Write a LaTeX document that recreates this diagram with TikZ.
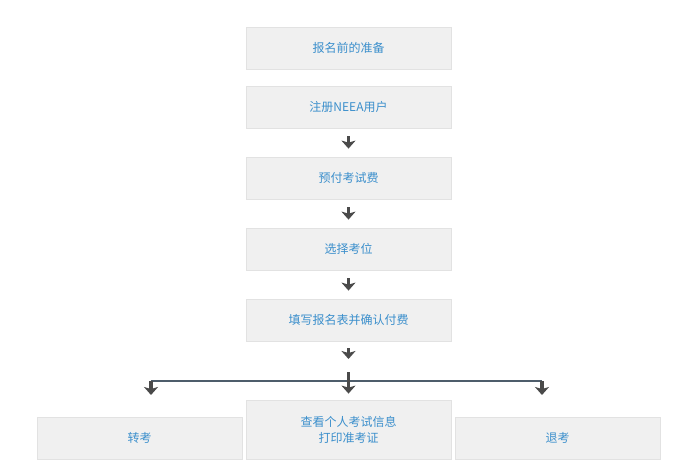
\documentclass[tikz,border=0pt]{standalone}
\usepackage{fontspec}
\newfontfamily\cjk{Noto Sans CJK SC}
\usetikzlibrary{arrows.meta}
\definecolor{boxfill}{HTML}{F0F0F0}
\definecolor{boxline}{HTML}{E2E2E2}
\definecolor{txtblue}{HTML}{3B8FCC}
\definecolor{arrgray}{HTML}{4A4A4A}
\definecolor{hgray}{HTML}{4E5D6B}
\tikzset{
  stepbox/.style={draw=boxline, fill=boxfill, line width=0.8pt, minimum width=205pt, minimum height=42pt, inner sep=0pt, font=\cjk\fontsize{12}{16}\selectfont, text=txtblue, align=center},
  arr/.style={draw=arrgray, line width=3.5pt, -{Stealth[width=14pt,length=8pt,inset=2pt]}},
  hline/.style={draw=hgray, line width=2pt},
}
\begin{document}
\begin{tikzpicture}[x=1pt,y=-1pt]
\useasboundingbox (0,0) rectangle (684,470);
\node[stepbox] (b1) at (348.5,48) {报名前的准备};
\node[stepbox] (b2) at (348.5,107) {注册NEEA用户};
\node[stepbox] (b3) at (348.5,178) {预付考试费};
\node[stepbox] (b4) at (348.5,249) {选择考位};
\node[stepbox] (b5) at (348.5,320) {填写报名表并确认付费};
\node[stepbox] (b7) at (139.5,438) {转考};
\node[stepbox, minimum height=59pt] (b6) at (348.5,429.5) {查看个人考试信息\\打印准考证};
\node[stepbox] (b8) at (557.5,438) {退考};
\coordinate (a5) at (348.5,359);
\coordinate (jt) at (348.5,372);
\coordinate (hL) at (151,381);
\coordinate (hR) at (542,381);
\draw[arr, shorten <=8pt, shorten >=8pt] (b2) -- (b3);
\draw[arr, shorten <=8pt, shorten >=8pt] (b3) -- (b4);
\draw[arr, shorten <=8pt, shorten >=8pt] (b4) -- (b5);
\draw[arr, shorten <=7pt] (b5) -- (a5);
\draw[hline] (hL) -- (hR);
\draw[arr, shorten >=6pt] (jt) -- (b6);
\draw[arr] (hL) -- ++(0,14);
\draw[arr] (hR) -- ++(0,14);
\end{tikzpicture}
\end{document}
